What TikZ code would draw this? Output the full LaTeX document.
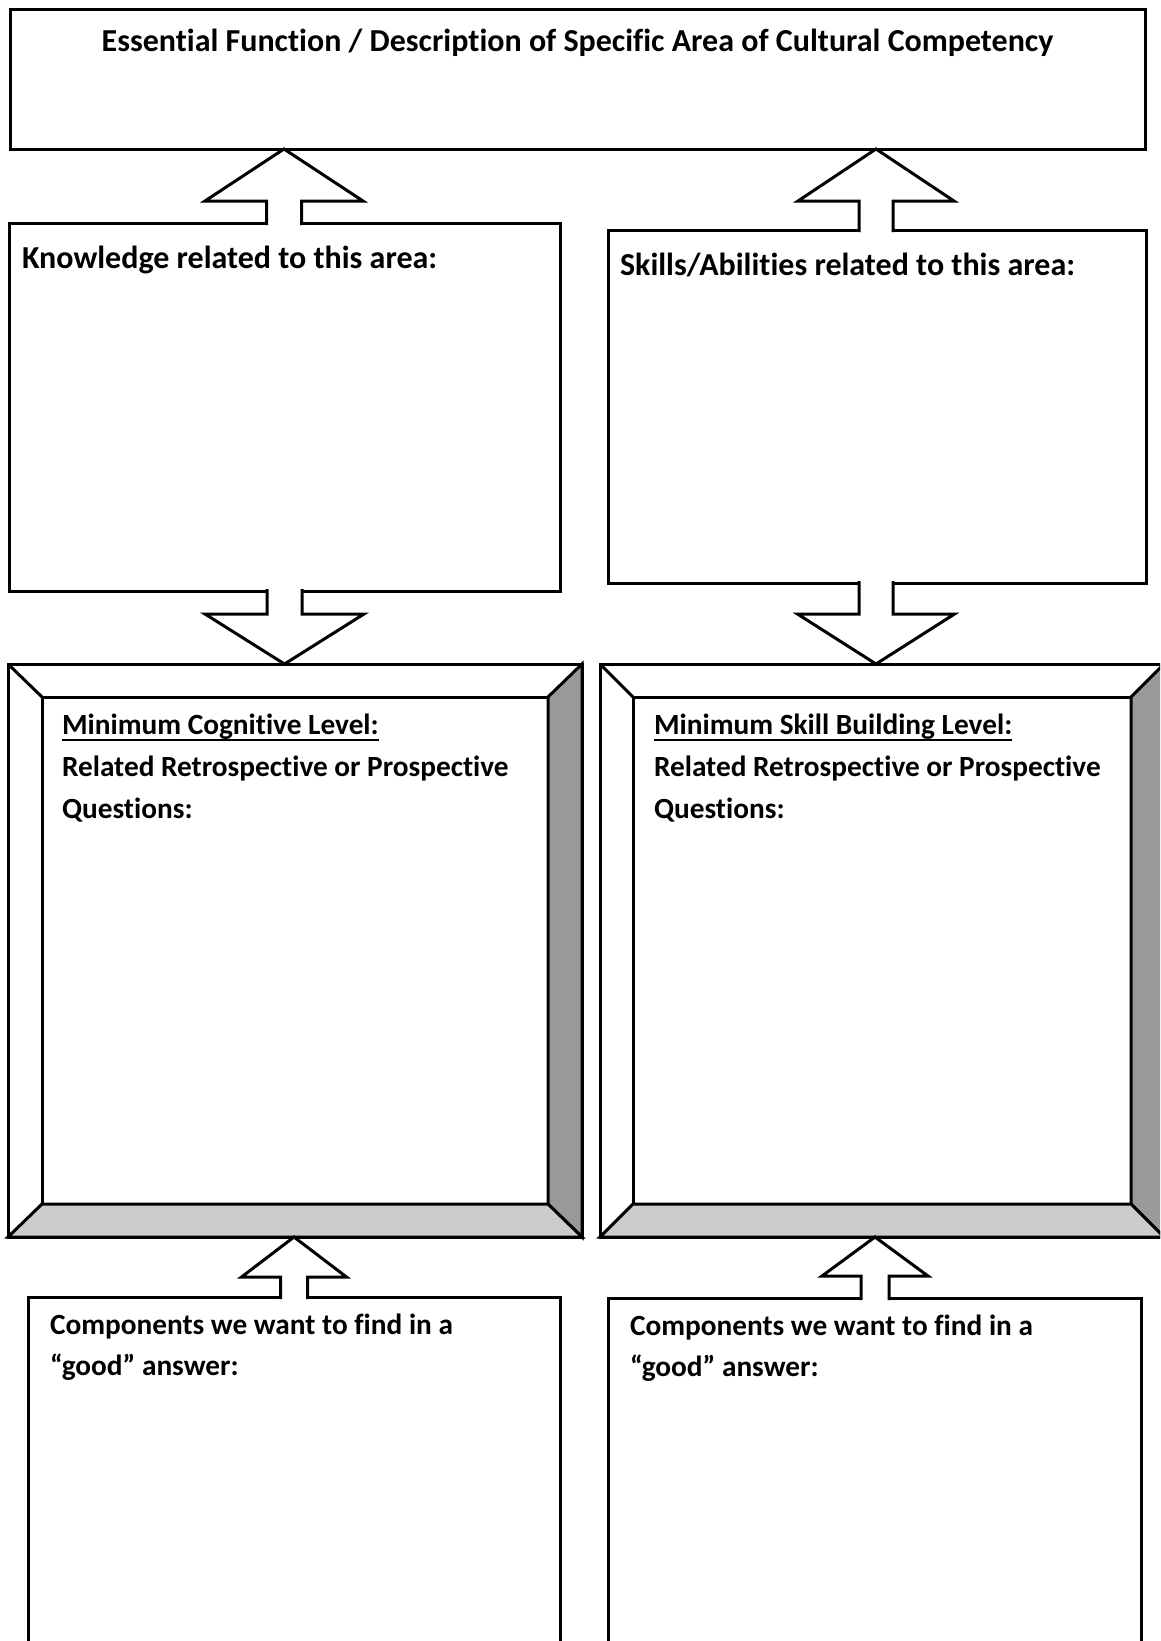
\documentclass[tikz,border=0pt]{standalone}
\usepackage{fontspec}
\setmainfont{Carlito}[Ligatures={NoCommon}]
\definecolor{darkbev}{HTML}{999999}
\definecolor{lightbev}{HTML}{CCCCCC}
\tikzset{
  frame/.style={draw=black, line width=3pt, fill=white, rectangle, inner sep=0pt, outer sep=0pt, anchor=north west},
  lbl/.style={inner sep=0pt, outer sep=0pt, anchor=base west, font=\fontsize{29.3}{42}\selectfont\bfseries},
  biglbl/.style={lbl, font=\fontsize{32}{42}\selectfont\bfseries},
  blockarrow/.style={draw=black, fill=white, line width=3pt, line join=miter},
  bevelline/.style={draw=black, line width=3pt, line join=miter},
  uline/.style={line width=2.2pt}
}
% #1 centre x, #2 tip y, #3 head base y, #4 head half width, #5 shaft half width, #6 shaft end y
\newcommand\blockarr[6]{\path[blockarrow] (#1-#5,#6) -- (#1-#5,#3) -- (#1-#4,#3) -- (#1,#2) -- (#1+#4,#3) -- (#1+#5,#3) -- (#1+#5,#6);}
\begin{document}
\begin{tikzpicture}[x=1pt,y=-1pt]
\clip (0,0) rectangle (1160,1641);
\fill[white] (0,0) rectangle (1160,1641);

% top box
\node[frame, minimum width=1135pt, minimum height=140pt] (top) at (10,9) {};
\node[biglbl, anchor=base] (ttitle) at (577.5,51) {Essential Function / Description of Specific Area of Cultural Competency};

% knowledge / skills boxes
\node[frame, minimum width=551pt, minimum height=368pt] (know) at (9,223) {};
\node[biglbl] (tknow) at (22,268) {Knowledge related to this area:};
\node[frame, minimum width=538pt, minimum height=353pt] (skill) at (608,230) {};
\node[biglbl] (tskill) at (620,275) {Skills/Abilities related to this area:};

% left bevel box
\node[frame, minimum width=574pt, minimum height=573pt] (bevL) at (8,664) {};
\node[frame, minimum width=506pt, minimum height=507pt] (inL) at (42,697) {};
\path[bevelline, fill=darkbev] (bevL.north east) -- (inL.north east) -- (inL.south east) -- (bevL.south east) -- cycle;
\path[bevelline, fill=lightbev] (bevL.south west) -- (inL.south west) -- (inL.south east) -- (bevL.south east) -- cycle;
\path[bevelline] (bevL.north west) -- (inL.north west);
\node[lbl] (mcog) at (62,734) {Minimum Cognitive Level:};
\draw[uline] ([yshift=-6pt]mcog.base west) -- ([yshift=-6pt]mcog.base east);
\node[lbl] (rcog) at (62,776) {Related Retrospective or Prospective};
\node[lbl] (qcog) at (62,818) {Questions:};

% right bevel box
\node[frame, minimum width=564pt, minimum height=573pt] (bevR) at (600,664) {};
\node[frame, minimum width=498pt, minimum height=507pt] (inR) at (633,697) {};
\path[bevelline, fill=darkbev] (bevR.north east) -- (inR.north east) -- (inR.south east) -- (bevR.south east) -- cycle;
\path[bevelline, fill=lightbev] (bevR.south west) -- (inR.south west) -- (inR.south east) -- (bevR.south east) -- cycle;
\path[bevelline] (bevR.north west) -- (inR.north west);
\node[lbl] (mskl) at (654,734) {Minimum Skill Building Level:};
\draw[uline] ([yshift=-6pt]mskl.base west) -- ([yshift=-6pt]mskl.base east);
\node[lbl] (rskl) at (654,776) {Related Retrospective or Prospective};
\node[lbl] (qskl) at (654,818) {Questions:};

% components boxes
\node[frame, minimum width=532pt, minimum height=370pt] (compL) at (28,1297) {};
\node[lbl] (cl1) at (50,1334) {Components we want to find in a};
\node[lbl] (cl2) at (50,1375) {“good” answer:};
\node[frame, minimum width=533pt, minimum height=370pt] (compR) at (608,1298) {};
\node[lbl] (cr1) at (630,1335) {Components we want to find in a};
\node[lbl] (cr2) at (630,1376) {“good” answer:};

% block arrows
\blockarr{284}{149}{201}{79}{17.5}{225}
\blockarr{876}{149}{201}{78}{17}{232}
\blockarr{284.5}{664}{614}{79.5}{17.5}{589}
\blockarr{876}{664}{614}{78.5}{17}{581}
\blockarr{294}{1237}{1277}{52.5}{13.5}{1299}
\blockarr{875}{1237}{1276}{53}{14}{1300}
\end{tikzpicture}
\end{document}
